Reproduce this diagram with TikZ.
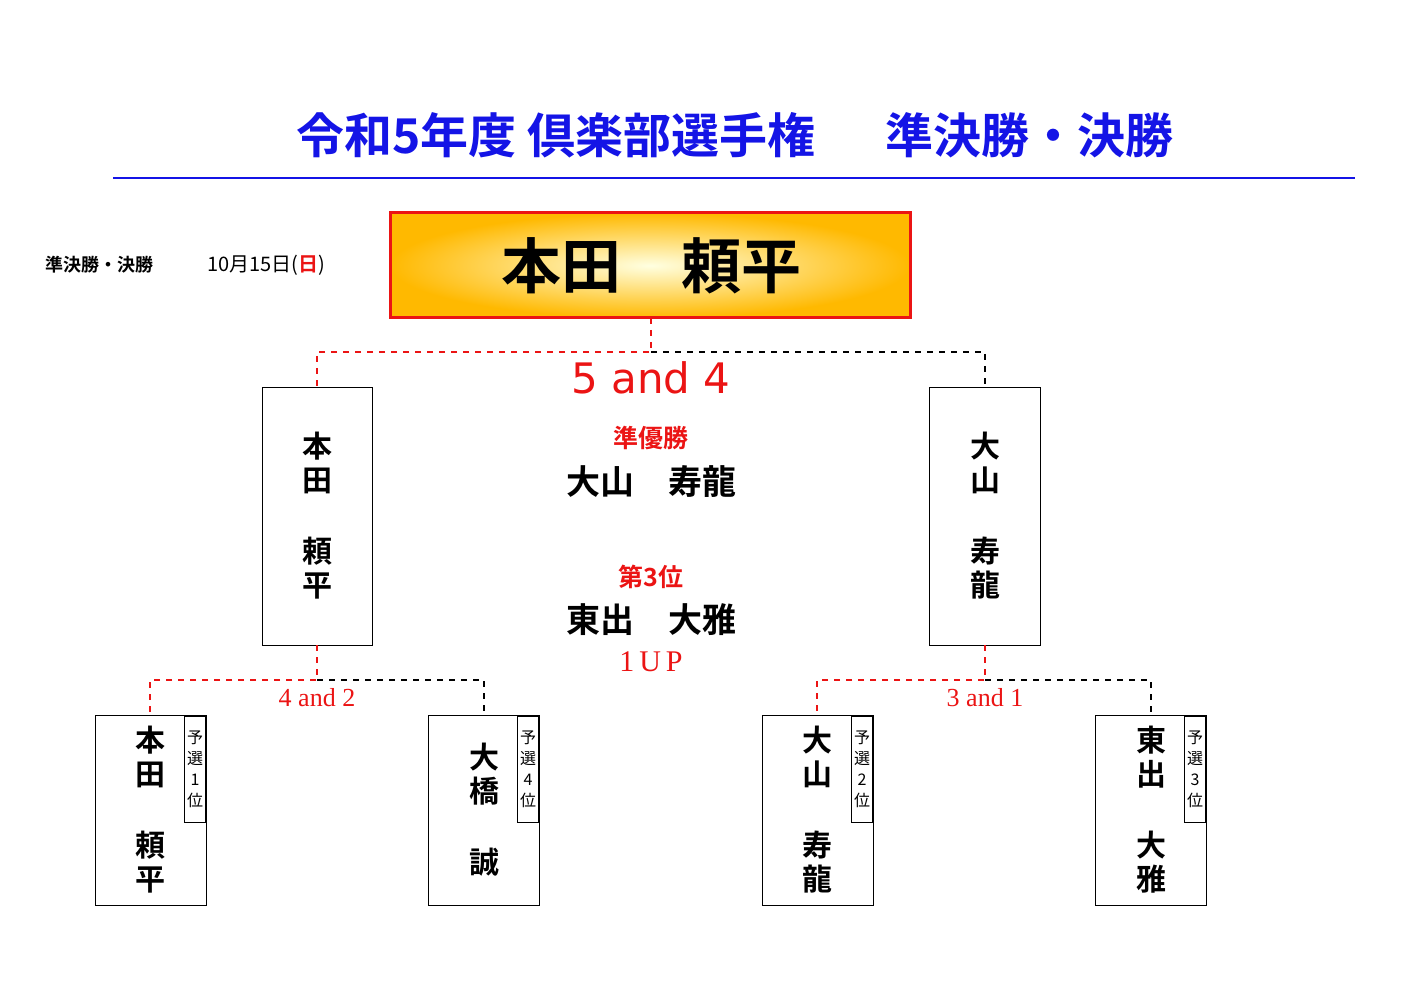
\documentclass[tikz,border=0pt]{standalone}
\usepackage{fontspec}
\setmainfont{Liberation Serif}
\newfontfamily\lsans{DejaVu Sans}
\newfontfamily\jp{Noto Sans CJK JP}
\newfontfamily\jpb{Noto Sans CJK JP Bold}
\usetikzlibrary{shadings}
\definecolor{tblue}{RGB}{20,20,230}
\definecolor{tred}{RGB}{235,20,20}
\begin{document}
\begin{tikzpicture}[x=0.5pt,y=-0.5pt,
  rdash/.style={tred,dashed,line width=0.9pt},
  kdash/.style={black,dashed,line width=0.9pt},
  vname/.style={font=\jpb\fontsize{15}{17}\selectfont,align=center,inner sep=0},
  seed/.style={draw,line width=0.4pt,minimum width=10.5pt,minimum height=53pt,inner sep=0,anchor=north east,align=center,font=\jp\fontsize{8}{10.5}\selectfont}]
\useasboundingbox (0,0) rectangle (1414,1000);
\node[tblue,font=\jpb\fontsize{24}{26}\selectfont] (title) at (735,135) {令和5年度\ 倶楽部選手権\quad\ \ 準決勝・決勝};
\draw[tblue,line width=1pt] (113,178) coordinate (l1) -- (1355,178) coordinate (l2);
\node[anchor=west,font=\jpb\fontsize{9}{10}\selectfont,inner sep=0] (date) at (45,265) {準決勝・決勝\qquad\quad{\jp\fontsize{10}{11}\selectfont 10月15日(\textcolor{tred}{\jpb 日})}};
% winner
\shade[outer color=orange!55!yellow,inner color=yellow!12] (390,213) rectangle (910,318);
\draw[tred,line width=1.5pt] (390,213) rectangle (910,318);
\node[font=\jpb\fontsize{30}{32}\selectfont] (win) at (651,266) {本田\quad 頼平};
\coordinate (wb) at (651,318);
\coordinate (wm) at (651,352);
\coordinate (sl) at (317,387); \coordinate (sr) at (985,387);
\draw[rdash] (wb) -- (wm) -- (317,352) -- (sl);
\draw[kdash] (wm) -- (985,352) -- (sr);
\node[tred,font=\lsans\fontsize{21}{23}\selectfont] (s1) at (651,378) {5 and 4};
% semis
\draw[line width=0.4pt] (262,387) rectangle (372,645);
\draw[line width=0.4pt] (929,387) rectangle (1040,645);
\node[vname] (n1) at (317,463) {本\\田};
\node[vname] (n2) at (317,568) {頼\\平};
\node[vname] (n3) at (985,463) {大\\山};
\node[vname] (n4) at (985,568) {寿\\龍};
\node[tred,font=\jpb\fontsize{12.5}{14}\selectfont] (t1) at (651,438) {準優勝};
\node[font=\jpb\fontsize{17}{19}\selectfont] (t2) at (651,482) {大山\quad 寿龍};
\node[tred,font=\jpb\fontsize{12.5}{14}\selectfont] (t3) at (651,577) {第3位};
\node[font=\jpb\fontsize{17}{19}\selectfont] (t4) at (651,620) {東出\quad 大雅};
\node[tred,font=\fontsize{15}{17}\selectfont] (t5) at (651,662) {1\,U\,P};
% lower connectors
\draw[rdash] (317,645) -- (317,680) -- (150,680) -- (150,715);
\draw[kdash] (317,680) -- (484,680) -- (484,715);
\draw[rdash] (985,645) -- (985,680) -- (817,680) -- (817,715);
\draw[kdash] (985,680) -- (1151,680) -- (1151,715);
\node[tred,font=\fontsize{13}{15}\selectfont] (s2) at (317,698) {4 and 2};
\node[tred,font=\fontsize{13}{15}\selectfont] (s3) at (985,698) {3 and 1};
% bottom boxes
\foreach \x in {95,428,762,1095}{\draw[line width=0.4pt] (\x,715) rectangle ++(111,190);}
\node[vname] (b1) at (150,757) {本\\田};
\node[vname] (b2) at (150,862) {頼\\平};
\node[vname] (b3) at (484,774) {大\\橋};
\node[vname] (b4) at (484,862) {誠};
\node[vname] (b5) at (817,757) {大\\山};
\node[vname] (b6) at (817,862) {寿\\龍};
\node[vname] (b7) at (1151,757) {東\\出};
\node[vname] (b8) at (1151,862) {大\\雅};
\node[seed] (k1) at (206,716) {予\\選\\1\\位};
\node[seed] (k2) at (539,716) {予\\選\\4\\位};
\node[seed] (k3) at (873,716) {予\\選\\2\\位};
\node[seed] (k4) at (1206,716) {予\\選\\3\\位};
\end{tikzpicture}
\end{document}
